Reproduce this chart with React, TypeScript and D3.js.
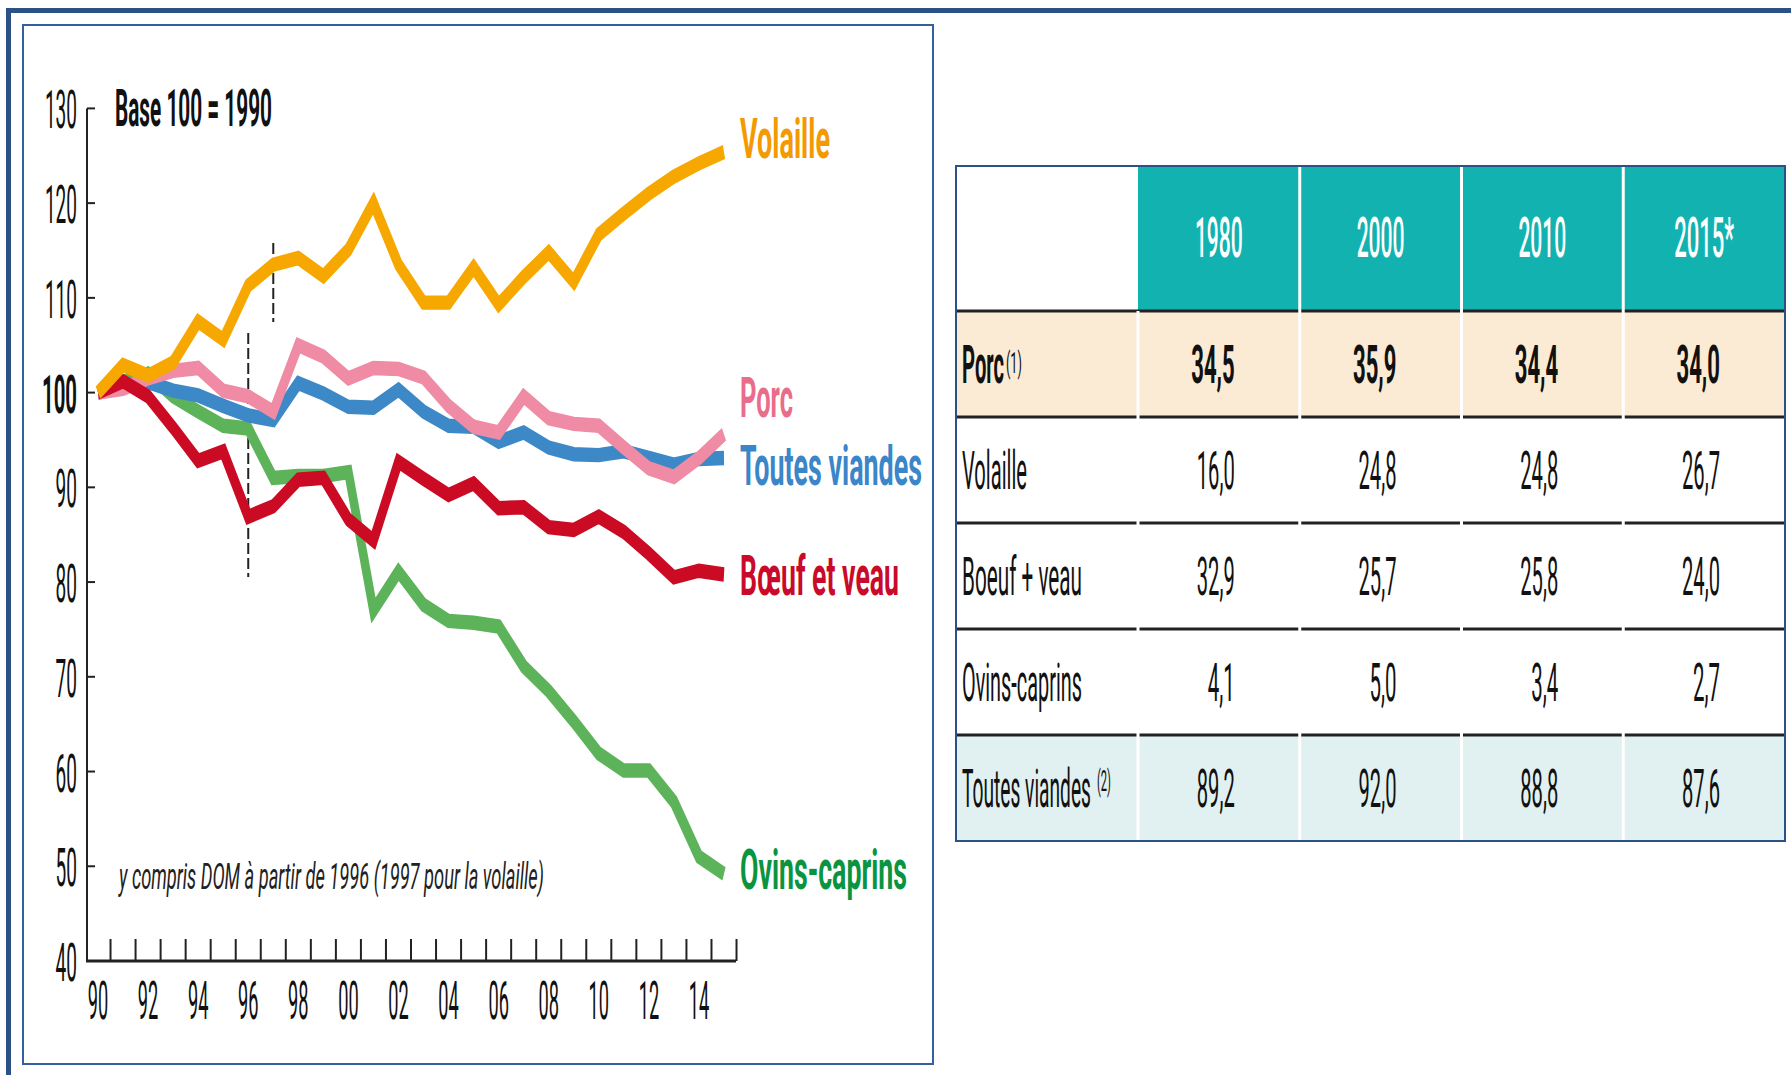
import React from "react";
import * as d3 from "d3";

// ---------- data ----------
const years = d3.range(1990, 2016);
const volaille = [100, 102.9, 101.8, 103.2, 107.5, 105.6, 111.3, 113.5, 114.2, 112.3, 115.1, 120.0, 113.5, 109.5, 109.5, 113.2, 109.3, 112.2, 114.8, 111.7, 116.7, 118.9, 121.0, 122.8, 124.2, 125.4];
const porc = [100, 100.4, 101.5, 102.3, 102.6, 100.2, 99.6, 98.0, 105.0, 103.8, 101.5, 102.6, 102.5, 101.6, 98.6, 96.4, 95.8, 99.6, 97.3, 96.7, 96.5, 94.2, 92.0, 91.1, 93.1, 95.6];
const toutes = [100, 100.6, 101.1, 100.2, 99.7, 98.6, 97.6, 97.1, 101.0, 99.9, 98.5, 98.4, 100.3, 98.0, 96.5, 96.4, 94.8, 95.8, 94.2, 93.5, 93.4, 93.8, 93.1, 92.4, 93.0, 93.1];
const boeuf = [100, 101.2, 99.6, 96.3, 92.8, 93.8, 86.9, 88.0, 90.8, 91.0, 86.6, 84.4, 92.7, 90.9, 89.2, 90.4, 87.8, 87.9, 85.8, 85.5, 86.9, 85.3, 83.0, 80.5, 81.2, 80.8];
const ovins = [100, 101.1, 102.0, 99.6, 98.0, 96.5, 96.2, 91.0, 91.2, 91.2, 91.6, 77.0, 81.1, 77.6, 75.9, 75.7, 75.3, 71.1, 68.5, 65.3, 61.9, 60.1, 60.1, 56.8, 51.0, 49.2];

const yTicks = [40, 50, 60, 70, 80, 90, 100, 110, 120, 130];
const xTickLabels = ["90", "92", "94", "96", "98", "00", "02", "04", "06", "08", "10", "12", "14"];

const tableYears = ["1980", "2000", "2010", "2015*"];
const tableRows = ["Porc", "Volaille", "Boeuf + veau", "Ovins-caprins", "Toutes viandes"];
const rowPorc = [34.5, 35.9, 34.4, 34.0];
const rowVolaille = [16.0, 24.8, 24.8, 26.7];
const rowBoeuf = [32.9, 25.7, 25.8, 24.0];
const rowOvins = [4.1, 5.0, 3.4, 2.7];
const rowToutes = [89.2, 92.0, 88.8, 87.6];

const FONT = "Roboto, 'Liberation Sans', sans-serif";

let measureCtx: CanvasRenderingContext2D | null = null;
function measure(text: string, size: number, weight: number, italic: boolean): number {
  if (!measureCtx) {
    const c = document.createElement("canvas");
    measureCtx = c.getContext("2d");
  }
  if (!measureCtx) return text.length * size * 0.5;
  measureCtx.font = `${italic ? "italic " : ""}${weight} ${size}px Roboto, 'Liberation Sans', sans-serif`;
  return measureCtx.measureText(text).width || text.length * size * 0.5;
}

// Condensed text: natural font, squeezed horizontally to a target width
function CText(props: {
  x: number; y: number; w: number; size: number; children: string;
  anchor?: "start" | "middle" | "end"; weight?: number; italic?: boolean; fill?: string;
}) {
  const { x, y, w, size, children, anchor = "start", weight = 400, italic = false, fill = "#111" } = props;
  const nat = measure(children, size, weight, italic);
  const sx = w / nat;
  const left = anchor === "start" ? x : anchor === "middle" ? x - w / 2 : x - w;
  return (
    <text transform={`translate(${left},${y}) scale(${sx},1)`} fontFamily={FONT} fontSize={size}
      fontWeight={weight} fontStyle={italic ? "italic" : "normal"} fill={fill}>{children}</text>
  );
}

export default function App() {
  const W = 1791, H = 1075;
  const x = d3.scaleLinear().domain([1990, 2015]).range([98, 724]);
  const y = d3.scaleLinear().domain([40, 130]).range([961, 108.4]);
  const K = 1.7; // vertical stretch of the original print
  const line = d3.line<number>().x((_, i) => x(years[i])).y((d) => y(d) / K);

  const series = [
    { name: "Ovins-caprins", data: ovins, color: "#5DB35A", label: "#0A9441", ly: 889, lw: 167 },
    { name: "Toutes viandes", data: toutes, color: "#3D88C6", label: "#3A86C8", ly: 485, lw: 182 },
    { name: "Porc", data: porc, color: "#EF8BA4", label: "#E96D8B", ly: 417, lw: 53 },
    { name: "Bœuf et veau", data: boeuf, color: "#CB0A24", label: "#C90A2A", ly: 595, lw: 159 },
    { name: "Volaille", data: volaille, color: "#F7A800", label: "#F39A00", ly: 158, lw: 90 },
  ];

  const fmt = (v: number) => d3.format(".1f")(v).replace(".", ",");
  const colX = d3.scaleBand<string>().domain(tableYears).range([1138, 1785]);
  const rowY = d3.scaleBand<string>().domain(tableRows).range([311, 841]);
  const rowsData = [rowPorc, rowVolaille, rowBoeuf, rowOvins, rowToutes];
  const rowLabelW: Record<string, number> = { "Porc": 42, "Volaille": 65, "Boeuf + veau": 120, "Ovins-caprins": 120, "Toutes viandes": 129 };
  const tLeft = 956, tTop = 166, tRight = 1785, tBottom = 841;

  return (
    <svg width={W} height={H} style={{ position: "absolute", left: 0, top: 0, display: "block", background: "#fff" }}>
      <rect x={0} y={0} width={W} height={H} fill="#fff" />
      {/* outer frame */}
      <line x1={6} x2={W} y1={10.5} y2={10.5} stroke="#2C5187" strokeWidth={5} />
      <line x1={8.5} x2={8.5} y1={8} y2={H} stroke="#2C5187" strokeWidth={5} />
      {/* inner chart frame */}
      <rect x={23} y={25} width={910} height={1039} fill="none" stroke="#3560A0" strokeWidth={2} />

      {/* y axis */}
      <line x1={87} x2={87} y1={y(130)} y2={y(40)} stroke="#222" strokeWidth={2} />
      {yTicks.filter((t) => t > 40).map((t) => (
        <line key={t} x1={87} x2={95} y1={y(t)} y2={y(t)} stroke="#222" strokeWidth={2} />
      ))}
      {yTicks.map((t) => (
        <CText key={t} x={77} y={y(t) + 20} anchor="end" size={53} weight={t === 100 ? 700 : 400}
          w={t === 100 ? 35 : String(t).length * 10.7}>{String(t)}</CText>
      ))}
      {/* x axis */}
      <line x1={86} x2={736} y1={961} y2={961} stroke="#222" strokeWidth={3} />
      {years.map((yr) => (
        <line key={yr} x1={x(yr + 0.5)} x2={x(yr + 0.5)} y1={961} y2={939} stroke="#222" strokeWidth={2} />
      ))}
      {xTickLabels.map((lab, i) => (
        <CText key={lab} x={x(1990 + 2 * i)} y={1019} anchor="middle" size={53} w={20.5}>{lab}</CText>
      ))}

      {/* dashed markers */}
      <line x1={x(1996)} x2={x(1996)} y1={333} y2={577} stroke="#222" strokeWidth={2} strokeDasharray="11 4" />
      <line x1={x(1997)} x2={x(1997)} y1={243} y2={322} stroke="#222" strokeWidth={2} strokeDasharray="11 4" />

      {/* series lines */}
      <g transform={`scale(1, ${K})`}>
        {series.map((s) => (
          <path key={s.name} d={line(s.data) || ""} fill="none" stroke={s.color} strokeWidth={8.5}
            strokeLinejoin="miter" strokeMiterlimit={4} />
        ))}
      </g>
      {series.map((s) => (
        <CText key={s.name} x={740} y={s.ly} size={55} weight={700} fill={s.label} w={s.lw}>{s.name}</CText>
      ))}

      <CText x={115} y={126} size={52} weight={700} w={157}>Base 100 = 1990</CText>
      <CText x={119} y={889} size={36} italic fill="#222" w={425}>y compris DOM à partir de 1996 (1997 pour la volaille)</CText>

      {/* table */}
      <rect x={colX.range()[0]} y={tTop} width={tRight - colX.range()[0]} height={311 - tTop} fill="#12B2B0" />
      <rect x={tLeft} y={rowY("Porc")} width={tRight - tLeft} height={rowY.bandwidth()} fill="#FCEBD4" />
      <rect x={tLeft} y={rowY("Toutes viandes")} width={tRight - tLeft} height={rowY.bandwidth()} fill="#E1F0F0" />
      {tableRows.map((r) => (
        <line key={r} x1={tLeft} x2={tRight} y1={rowY(r)} y2={rowY(r)} stroke="#222" strokeWidth={3} />
      ))}
      {tableYears.map((c) => (
        <line key={c} x1={colX(c)} x2={colX(c)} y1={c === "1980" ? 311 : tTop} y2={tBottom} stroke="#fff" strokeWidth={3} />
      ))}
      <rect x={tLeft} y={tTop} width={tRight - tLeft} height={tBottom - tTop} fill="none" stroke="#2C5187" strokeWidth={2} />
      {tableYears.map((c) => (
        <CText key={c} x={(colX(c) || 0) + colX.bandwidth() / 2} y={257} anchor="middle" size={55} weight={500}
          fill="#fff" w={c.length * 12}>{c}</CText>
      ))}
      {tableRows.map((r, i) => {
        const yb = (rowY(r) || 0) + rowY.bandwidth() / 2 + 19;
        const bold = r === "Porc";
        return (
          <g key={r}>
            <CText x={962} y={yb} size={53} weight={bold ? 700 : 400} w={rowLabelW[r]}>{r}</CText>
            {r === "Porc" && <CText x={1006} y={yb - 10} size={30} w={16}>(1)</CText>}
            {r === "Toutes viandes" && <CText x={1097} y={yb - 16} size={30} w={14}>(2)</CText>}
            {rowsData[i].map((v, j) => {
              const s = fmt(v);
              const digits = s.length - 1;
              return (
                <CText key={j} x={(colX(tableYears[j]) || 0) + colX.bandwidth() - 65} y={yb} anchor="end"
                  size={53} weight={bold ? 700 : 400} w={bold ? digits * 12.5 + 6 : digits * 11 + 5}>{s}</CText>
              );
            })}
          </g>
        );
      })}
    </svg>
  );
}
